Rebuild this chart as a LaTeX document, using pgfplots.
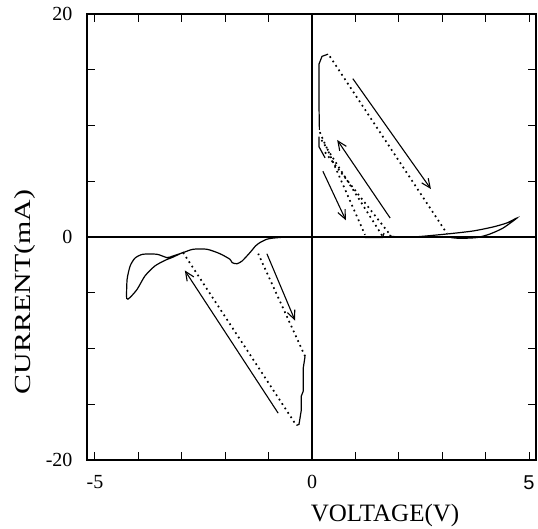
\documentclass[border=0pt]{standalone}
\usepackage{pgfplots}
\pgfplotsset{compat=1.18}
\usepackage{fontspec}
\setmainfont{Liberation Serif}
\setsansfont{Liberation Sans}
\usetikzlibrary{arrows.meta}
\begin{document}
\begin{tikzpicture}
\begin{axis}[
  at={(0,0)}, anchor=south west,
  scale only axis, width=449pt, height=446pt,
  xmin=-5.184, xmax=5.16, ymin=-20, ymax=20,
  axis line style={line width=1.6pt},
  xtick={-5,-4,-3,-2,-1,0,1,2,3,4,5},
  xticklabels={-5,,,,,0,,,,,{\sffamily 5}},
  ytick={-20,-15,-10,-5,0,5,10,15,20},
  yticklabels={-20,,,,0,,,,20},
  tick align=inside, major tick length=8pt,
  tick style={black, line width=1pt},
  /pgf/number format/assume math mode=true,
  tick label style={font=\fontsize{20}{22}\selectfont},
  xticklabel style={yshift=-12pt},
  yticklabel style={xshift=-11pt},
  clip=false,
]
% zero lines
\addplot[black, line width=1.1pt] coordinates {(0,-20) (0,20)};
\addplot[black, line width=1.1pt] coordinates {(-5.184,0) (5.16,0)};

% ---- negative branch ----
\addplot[black, line width=1.2pt, smooth, tension=0.4] coordinates {
(0,0) (-0.5,0.02) (-0.9,-0.1) (-1.04,-0.2) (-1.2,-0.5) (-1.3,-0.8) (-1.43,-1.4)
(-1.61,-2.15) (-1.73,-2.4) (-1.84,-2.3) (-1.89,-2.0) (-2.12,-1.5) (-2.42,-1.1)
(-2.74,-1.1) (-2.97,-1.4) (-3.2,-1.7) (-3.34,-1.85) (-3.57,-1.55) (-3.9,-1.55)
(-4.08,-1.9) (-4.19,-2.6) (-4.26,-3.8) (-4.27,-5.5) (-4.2,-5.45) (-4.03,-4.7)
(-3.85,-3.5) (-3.62,-2.6) (-3.39,-2.1) (-3.2,-1.8) (-3.04,-1.5) (-2.95,-1.35)};
\addplot[black, line width=1.7pt, dash pattern=on 1.7pt off 3.6pt] coordinates {(-2.97,-1.4) (-0.36,-16.9)};
\addplot[black, line width=1.2pt] coordinates {
(-0.36,-16.9) (-0.3,-16.8) (-0.25,-15.6) (-0.25,-14.3) (-0.2,-13.8) (-0.2,-11.7) (-0.16,-10.7)};
\addplot[black, line width=1.7pt, dash pattern=on 1.7pt off 3.6pt] coordinates {(-0.16,-10.7) (-1.24,-1.5)};
\addplot[black, line width=1.1pt, -{Straight Barb[length=9pt,width=8pt]}] coordinates {(-0.78,-15.8) (-2.93,-3.0)};
\addplot[black, line width=1.1pt, -{Straight Barb[length=9pt,width=8pt]}] coordinates {(-1.04,-1.5) (-0.39,-7.5)};

% ---- positive branch ----
\addplot[black, line width=1.2pt] coordinates {(0.17,9.6) (0.16,12) (0.16,15.5) (0.23,16.2) (0.37,16.4)};
\addplot[black, line width=1.2pt] coordinates {(0.16,9.0) (0.16,8.1) (0.3,7.1)};
\addplot[black, line width=1.7pt, dash pattern=on 1.7pt off 3.6pt] coordinates {(0.41,16.2) (3.11,0.3)};
\addplot[black, line width=1.7pt, dash pattern=on 1.7pt off 3.6pt] coordinates {(0.18,9.4) (1.22,0.2)};
\addplot[black, line width=1.7pt, dash pattern=on 1.7pt off 3.6pt] coordinates {(0.22,8.7) (1.62,0.1)};
\addplot[black, line width=1.7pt, dash pattern=on 1.7pt off 3.6pt] coordinates {(0.3,7.6) (1.8,0.2)};
\addplot[black, line width=1.2pt] coordinates {(1.22,-0.05) (1.62,-0.05) (1.66,0.35)};
\addplot[black, line width=1.2pt, smooth, tension=0.4] coordinates {
(1.8,0.2) (1.84,0.05) (2.33,0.0) (3.11,0.27) (3.71,0.54) (4.17,0.9) (4.49,1.26) (4.72,1.7)
(4.4,0.8) (4.1,0.27) (3.8,-0.05) (3.41,-0.12) (3.2,-0.05)};
\addplot[black, line width=1.1pt, -{Straight Barb[length=9pt,width=8pt]}] coordinates {(0.94,14.2) (2.74,4.3)};
\addplot[black, line width=1.1pt, -{Straight Barb[length=9pt,width=8pt]}] coordinates {(1.8,1.7) (0.58,8.7)};
\addplot[black, line width=1.1pt, -{Straight Barb[length=9pt,width=8pt]}] coordinates {(0.25,5.9) (0.78,1.5)};
\end{axis}
\node[rotate=90, font=\fontsize{23}{26}\selectfont] at (-62pt,168pt) {\scalebox{1.3}[1]{CURRENT(mA)}};
\node[font=\fontsize{25}{27}\selectfont] at (298pt,-55pt) {VOLTAGE(V)};
\pgfresetboundingbox
\path (-87pt,-69pt) rectangle (451pt,460pt);
\end{tikzpicture}
\end{document}
